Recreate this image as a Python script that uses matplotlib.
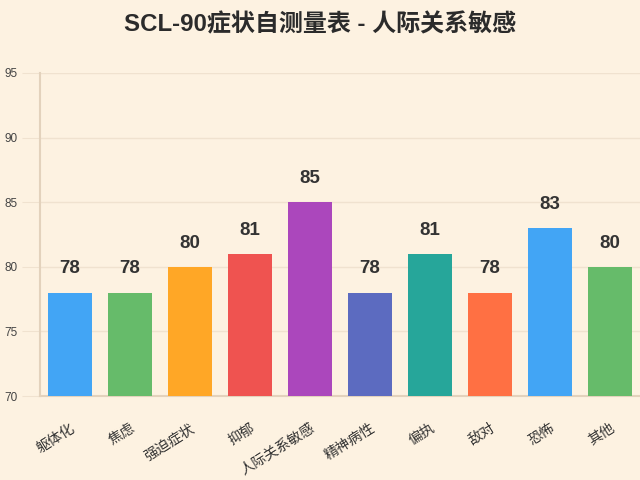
import matplotlib
matplotlib.use('Agg')
import matplotlib.pyplot as plt
import numpy as np

plt.rcParams['font.family'] = ['Liberation Sans', 'Noto Sans CJK SC', 'DejaVu Sans']

# data
categories = ['躯体化', '焦虑', '强迫症状', '抑郁', '人际关系敏感',
              '精神病性', '偏执', '敌对', '恐怖', '其他']
scores = [78, 78, 80, 81, 85, 78, 81, 78, 83, 80]
colors = ['#42A5F5', '#66BB6A', '#FFA726', '#EF5350', '#AB47BC',
          '#5C6BC0', '#26A69A', '#FF7043', '#42A5F5', '#66BB6A']
title = 'SCL-90症状自测量表 - 人际关系敏感'

bg = '#FDF2E1'
fig = plt.figure(figsize=(6.4, 4.8), dpi=100, facecolor=bg)
ax = fig.add_axes([0.0625, 0.175, 0.9375, 0.673])
ax.set_facecolor(bg)

x = np.arange(len(categories))
ax.bar(x, scores, width=0.73, color=colors, zorder=3)

for xi, v in zip(x, scores):
    ax.annotate(str(v), (xi, v), xytext=(0, 11), textcoords='offset points',
                ha='center', va='bottom', fontsize=13.5, fontweight='bold',
                color='#333333', zorder=4)

ax.set_xlim(-0.5, len(categories) - 0.5)
ax.set_ylim(70, 95)
ax.set_yticks(np.arange(70, 96, 5))
ax.set_xticks(x)
ax.set_xticklabels(categories, rotation=32, ha='right', rotation_mode='anchor',
                   fontsize=10.2, color='#333333',
                   family=['Noto Sans CJK SC', 'DejaVu Sans'])

ax.grid(axis='y', color='#F0E2CF', linewidth=1, zorder=0)
ax.tick_params(axis='y', length=13, color='#F0E2CF', labelsize=8.5, labelcolor='#444444', pad=3)
ax.tick_params(axis='x', length=0, pad=18)

for side in ['top', 'right']:
    ax.spines[side].set_visible(False)
for side in ['left', 'bottom']:
    ax.spines[side].set_color('#E3D2BC')
    ax.spines[side].set_linewidth(1.5)

fig.text(0.5, 0.948, title, ha='center', va='center', fontsize=17.3,
         fontweight='bold', color='#2b2b2b',
         family=['Liberation Sans', 'Noto Sans CJK SC', 'DejaVu Sans'])

fig.savefig('out.png', dpi=100, facecolor=bg)
